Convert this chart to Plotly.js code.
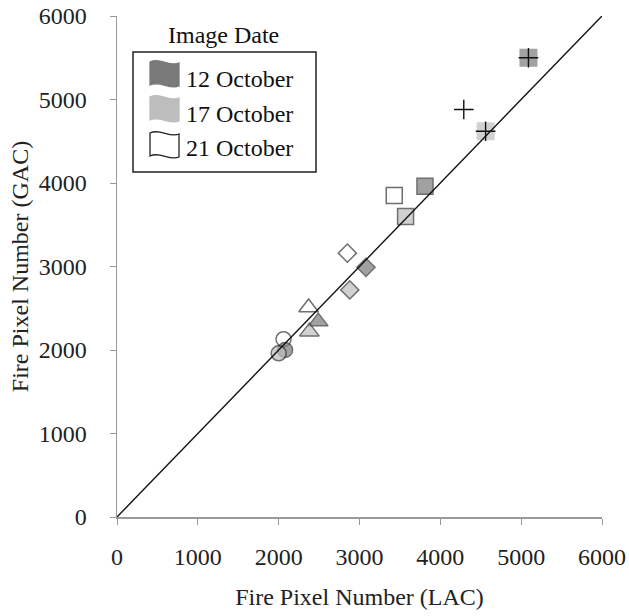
<!DOCTYPE html>
<html>
<head>
<meta charset="utf-8">
<script src="https://cdn.plot.ly/plotly-3.0.1.min.js"></script>
<style>html,body{margin:0;padding:0;background:#fff;}#chart{width:629px;height:616px;}</style>
</head>
<body>
<div id="chart"></div>
<script>
// ---- data ----
var dates = ['12 October', '17 October', '21 October'];
var dateColors = ['#7a7a7a', '#bdbdbd', '#ffffff'];
var pointSymbols = ['circle', 'triangle-up', 'diamond', 'square', 'square'];
var lac12 = [2080, 2490, 3080, 3810, 5090];
var gac12 = [2000, 2340, 2990, 3960, 5500];
var lac17 = [2000, 2380, 2880, 3570, 4560];
var gac17 = [1960, 2220, 2720, 3600, 4620];
var lac21 = [2060, 2370, 2850, 3430, 4290];
var gac21 = [2130, 2510, 3160, 3850, 4880];
var crossLac = [lac12[4], lac17[4], lac21[4]];
var crossGac = [gac12[4], gac17[4], gac21[4]];
var lineX = [0, 6000];
var lineY = [0, 6000];
var tickVals = [0, 1000, 2000, 3000, 4000, 5000, 6000];

var FONT = 'Liberation Serif, Times New Roman, serif';
var lineWidths = [1.5, 1.5, 1.5, 1.5, 0];
var sizes = [15, 17, 14, 16, 18];

function dateTrace(x, y, color, name) {
  return {
    type: 'scatter', mode: 'markers', x: x, y: y, name: name,
    showlegend: false, hoverinfo: 'skip',
    marker: { symbol: pointSymbols, size: sizes, color: color,
      line: { color: '#333333', width: lineWidths } }
  };
}

var traces = [
  dateTrace(lac21, gac21, dateColors[2], dates[2]),
  dateTrace(lac12, gac12, dateColors[0], dates[0]),
  dateTrace(lac17, gac17, dateColors[1], dates[1]),
  { type: 'scatter', mode: 'markers', x: crossLac, y: crossGac, showlegend: false,
    hoverinfo: 'skip',
    marker: { symbol: 'cross-thin-open', size: 14, color: '#111', line: { color: '#111', width: 1.4 } } },
  { type: 'scatter', mode: 'lines', x: lineX, y: lineY, showlegend: false, hoverinfo: 'skip',
    line: { color: '#111', width: 1.4 } }
];

// pixel -> paper helpers for the hand-drawn legend
var L = 117, R = 602, T = 16, B = 517;
function px(p) { return (p - L) / (R - L); }
function py(p) { return (B - p) / (B - T); }
function flagPath(x0, y0) {
  var w = 29, h = 23, a = 5;
  var p = 'M ' + px(x0) + ' ' + py(y0) +
    ' C ' + px(x0 + w / 3) + ' ' + py(y0 - a) + ' ' + px(x0 + 2 * w / 3) + ' ' + py(y0 + a) + ' ' + px(x0 + w) + ' ' + py(y0 + 1) +
    ' L ' + px(x0 + w) + ' ' + py(y0 + h + 1) +
    ' C ' + px(x0 + 2 * w / 3) + ' ' + py(y0 + h + a) + ' ' + px(x0 + w / 3) + ' ' + py(y0 + h - a) + ' ' + px(x0) + ' ' + py(y0 + h) + ' Z';
  return p;
}
var flagTops = [62, 97, 133];
var textY = [79, 114, 148];
var shapes = [{ type: 'rect', xref: 'paper', yref: 'paper', x0: px(133), x1: px(316), y0: py(172), y1: py(52),
  line: { color: '#222', width: 1.5 }, fillcolor: '#fff', layer: 'above' }];
var annotations = [{ xref: 'paper', yref: 'paper', x: px(223), y: py(35), text: 'Image Date', showarrow: false,
  font: { family: FONT, size: 24, color: '#111' }, xanchor: 'center', yanchor: 'middle' }];
for (var i = 0; i < dates.length; i++) {
  shapes.push({ type: 'path', xref: 'paper', yref: 'paper', path: flagPath(150, flagTops[i]), layer: 'above',
    fillcolor: dateColors[i], line: { color: i === 2 ? '#222' : dateColors[i], width: 1.3 } });
  annotations.push({ xref: 'paper', yref: 'paper', x: px(184), y: py(textY[i]), text: dates[i], showarrow: false,
    xanchor: 'left', yanchor: 'middle', font: { family: FONT, size: 24, color: '#111' } });
}

var axisCommon = {
  range: [0, 6000], tickvals: tickVals, ticks: 'outside', ticklen: 6, tickcolor: '#999',
  showline: true, linecolor: '#999', linewidth: 1.5, showgrid: false, zeroline: false,
  tickfont: { family: FONT, size: 24, color: '#222' }, fixedrange: true
};
var layout = {
  width: 629, height: 616,
  margin: { l: 117, r: 27, t: 16, b: 99 },
  paper_bgcolor: '#fff', plot_bgcolor: '#fff',
  xaxis: Object.assign({}, axisCommon, {
    ticklabelstandoff: 12,
    title: { text: 'Fire Pixel Number (LAC)', font: { family: FONT, size: 24, color: '#222' }, standoff: 19 }
  }),
  yaxis: Object.assign({}, axisCommon, {
    ticklabelstandoff: 18,
    title: { text: 'Fire Pixel Number (GAC)', font: { family: FONT, size: 24, color: '#222' }, standoff: 3 }
  }),
  shapes: shapes,
  annotations: annotations
};
Plotly.newPlot('chart', traces, layout, { displayModeBar: false, staticPlot: true });
</script>
</body>
</html>
